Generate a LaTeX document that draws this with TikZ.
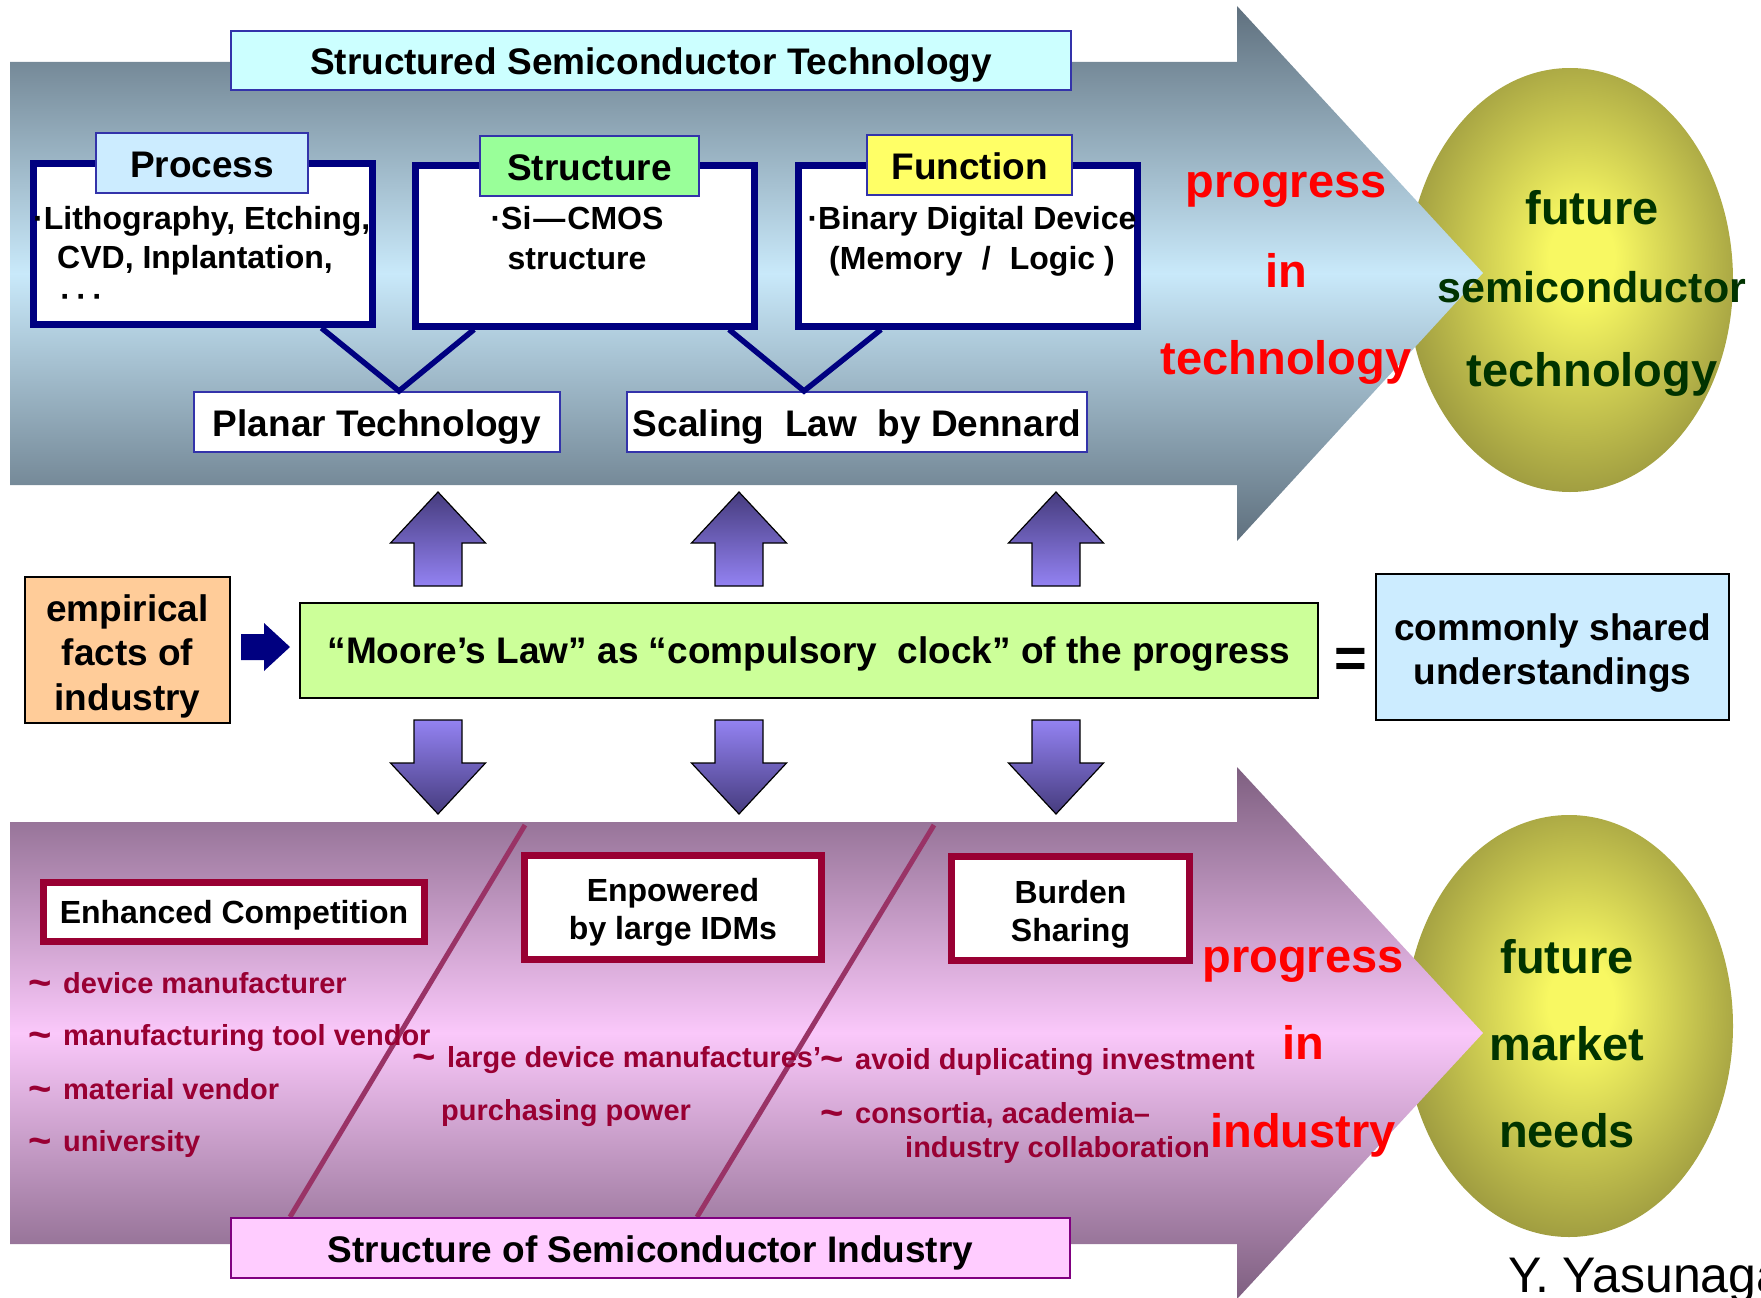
\documentclass[tikz,border=0pt]{standalone}
\usepackage{fontspec}
\setmainfont{Liberation Sans}
\usetikzlibrary{positioning}

\definecolor{slatetop}{HTML}{5F707E}
\definecolor{skyband}{HTML}{C9E9FA}
\definecolor{mauvetop}{HTML}{7E5F80}
\definecolor{pinkband}{HTML}{FAC8FA}
\definecolor{navyline}{HTML}{000080}
\definecolor{tagblue}{HTML}{3333AA}
\definecolor{wine}{HTML}{990033}
\definecolor{plum}{HTML}{993366}
\definecolor{olive}{HTML}{7A7632}
\definecolor{glow}{HTML}{F8F862}
\definecolor{lilac}{HTML}{9382F2}
\definecolor{indigo}{HTML}{463C7E}
\definecolor{leaf}{HTML}{003300}
\definecolor{titlecyan}{HTML}{CCFFFF}
\definecolor{icecube}{HTML}{CCECFF}
\definecolor{mint}{HTML}{99FF99}
\definecolor{lemon}{HTML}{FFFF66}
\definecolor{peach}{HTML}{FFCC99}
\definecolor{lime}{HTML}{CCFF99}
\definecolor{candy}{HTML}{FFCCFF}
\definecolor{grape}{HTML}{800080}

\pgfdeclareradialshading{ballglow}{\pgfpoint{2bp}{3bp}}{%
  color(0bp)=(glow); color(5bp)=(glow); color(36bp)=(olive); color(50bp)=(olive)}

% bullet wave in front of the list entries
\newcommand{\wave}{\raisebox{-3pt}{\fontsize{40}{40}\selectfont\textasciitilde}\hspace{0.4em}}

\begin{document}
\begin{tikzpicture}[x=1pt, y=-1pt,
  hd/.style={font=\fontsize{37}{44.5}\selectfont\bfseries},
  oneline/.style={text height=28pt, text depth=0pt},
  txt/.style={font=\fontsize{32}{39}\selectfont\bfseries, inner sep=0pt},
  small/.style={font=\fontsize{29}{35}\selectfont\bfseries, text=wine,
    anchor=west, inner sep=0pt},
  big/.style={font=\fontsize{47}{56}\selectfont\bfseries, inner sep=0pt},
  banner/.style={hd, oneline, draw=tagblue, line width=2pt,
    minimum height=59pt, inner sep=0pt},
  frame/.style={draw=navyline, line width=7pt, fill=white,
    minimum width=339pt, minimum height=161pt},
  vee/.style={navyline, line width=5.5pt},
  plain/.style={hd, draw=black, line width=2pt, inner sep=0pt, align=center},
  rival/.style={draw=wine, line width=7pt, fill=white, inner sep=0pt},
  rivaltext/.style={align=center, inner sep=0pt,
    font=\fontsize{32}{37.5}\selectfont\bfseries},
  divider/.style={plum, line width=5pt},
  blockup/.style={draw=black, line width=1.2pt, top color=indigo,
    bottom color=lilac},
  blockdown/.style={draw=black, line width=1.2pt, top color=lilac,
    bottom color=indigo}]
  \useasboundingbox (0,0) rectangle (1761,1298);

  % goal ovals
  \path[shading=ballglow] (1570,280) ellipse [x radius=163pt, y radius=212pt];
  \path[shading=ballglow] (1569,1026) ellipse [x radius=164pt, y radius=211pt];

  % the two big bands
  \path[top color=slatetop, bottom color=slatetop, middle color=skyband]
    (10,62) -- (1237,62) -- (1237,6) -- (1483,273) -- (1237,541)
    -- (1237,485) -- (10,485) -- cycle;
  \path[top color=mauvetop, bottom color=mauvetop, middle color=pinkband]
    (10,822) -- (1237,822) -- (1237,767) -- (1483,1033) -- (1237,1299)
    -- (1237,1244) -- (10,1244) -- cycle;

  % technology side
  \node[banner, fill=titlecyan, minimum width=840pt] (techtitle) at (651,60.5)
    {Structured Semiconductor Technology};
  \node[frame] (procbox) at (202.5,244) {};
  \node[frame] (strucbox) at (585,245.5) {};
  \node[frame] (funcbox) at (967.5,245.5) {};
  \node[banner, fill=icecube, minimum width=212pt, minimum height=60pt]
    (proc) at (202,163) {Process};
  \node[banner, fill=mint, minimum width=219pt, minimum height=60pt]
    (struc) at (589.5,166) {Structure};
  \node[banner, fill=lemon, minimum width=205pt, minimum height=60pt]
    (func) at (969.5,165) {Function};
  \node[txt, anchor=north west, align=left] (proctext) at (33,206)
    {·Lithography, Etching,\\\hspace*{0.75em}CVD, Inplantation,\\\hspace*{0.85em}·\,·\,·};
  \node[txt, anchor=north, align=center, font=\fontsize{32}{40}\selectfont\bfseries]
    (structext) at (577,206) {·Si\kern2pt—\kern2pt CMOS\\structure};
  \node[txt, anchor=north, align=center, font=\fontsize{32}{40}\selectfont\bfseries]
    (functext) at (972,206)
    {·Binary Digital Device\\(Memory\hspace{0.6em}/\hspace{0.6em}Logic )};

  \node[banner, fill=white, minimum width=366pt, minimum height=60pt]
    (planar) at (377,422) {Planar Technology};
  \node[banner, fill=white, minimum width=460pt, minimum height=60pt]
    (scaling) at (857,422) {Scaling\ \ Law\ \ by Dennard};
  \draw[vee] ([xshift=119pt]procbox.south) -- ([xshift=22pt]planar.north)
    -- ([xshift=-111pt]strucbox.south);
  \draw[vee] ([xshift=144pt]strucbox.south) -- ([xshift=-53pt]scaling.north)
    -- ([xshift=-86.5pt]funcbox.south);

  % middle row
  \node[plain, fill=peach, minimum width=205pt, minimum height=146pt]
    (facts) at (127.5,650) {};
  \node[plain, draw=none] (factstext) at ([yshift=-6pt]facts.center)
    {empirical\\facts of\\industry};
  \node[plain, text height=26pt, text depth=0pt, fill=lime,
    minimum width=1018pt, minimum height=95pt] (moore) at (809,650.5)
    {“Moore’s Law” as “compulsory\ \ clock” of the progress};
  \node[plain, fill=icecube, minimum width=353pt, minimum height=146pt]
    (shared) at (1552.5,647) {};
  \node[plain, draw=none] (sharedtext) at ([yshift=-6pt]shared.center)
    {commonly shared\\understandings};
  \node[font=\fontsize{56}{60}\selectfont\bfseries, inner sep=0pt]
    (equals) at (1351,663) {=};
  \path[fill=navyline] (241,634) -- (264,634) -- (264,623) -- (290,647)
    -- (264,671) -- (264,660) -- (241,660) -- cycle;

  \foreach \cx in {438,739,1056}{
    \path[blockup] (\cx-24,586) -- (\cx-24,543) -- (\cx-47.5,543) -- (\cx,492)
      -- (\cx+47.5,543) -- (\cx+24,543) -- (\cx+24,586) -- cycle;
    \path[blockdown] (\cx-24,720) -- (\cx+24,720) -- (\cx+24,763)
      -- (\cx+47.5,763) -- (\cx,814) -- (\cx-47.5,763) -- (\cx-24,763) -- cycle;
  }

  % industry side
  \draw[divider] (525,825) -- (290,1217);
  \draw[divider] (934,825) -- (697,1217);
  \node[banner, fill=candy, draw=grape, minimum width=839pt, minimum height=60pt]
    (indtitle) at (650.5,1248) {Structure of Semiconductor Industry};
  \node[rival, rivaltext, text height=22.5pt, text depth=0pt,
    minimum width=381pt, minimum height=59pt] (compete) at (234,912)
    {Enhanced Competition};
  \node[rival, minimum width=297pt, minimum height=104pt] (idm)
    at (673,907.5) {};
  \node[rivaltext] (idmtext) at ([yshift=-5pt]idm.center)
    {Enpowered\\by large IDMs};
  \node[rival, minimum width=238pt, minimum height=104pt] (burden)
    at (1070.5,908.5) {};
  \node[rivaltext] (burdentext) at ([yshift=-6pt]burden.center)
    {Burden\\Sharing};

  \node[small] (dev) at (28,984) {\wave device manufacturer};
  \node[small] (tool) at (28,1038) {\wave manufacturing tool vendor};
  \node[small] (mat) at (28,1090) {\wave material vendor};
  \node[small] (uni) at (28,1144) {\wave university};
  \node[small] (large) at (412,1060) {\wave large device manufactures’};
  \node[small] (power) at (441,1113) {purchasing power};
  \node[small] (avoid) at (820,1062) {\wave avoid duplicating investment};
  \node[small] (consort) at (820,1115) {\wave consortia, academia–};
  \node[small] (collab) at (905,1150) {industry collaboration};

  % band captions
  \node[big, text=red] (tprog) at (1286,190) {progress};
  \node[big, text=red] (tin) at (1286,270) {in};
  \node[big, text=red] (ttech) at (1286,362) {technology};
  \node[big, text=red] (iprog) at (1303,965) {progress};
  \node[big, text=red] (iin) at (1303,1042) {in};
  \node[big, text=red] (iind) at (1303,1135) {industry};

  % oval captions
  \node[big, text=leaf] (gfut) at (1592,208) {future};
  \node[big, text=leaf, font=\fontsize{43}{50}\selectfont\bfseries] (gsemi)
    at (1592,287) {semiconductor};
  \node[big, text=leaf] (gtech) at (1592,374) {technology};
  \node[big, text=leaf] (mfut) at (1567,957) {future};
  \node[big, text=leaf] (mmark) at (1567,1044) {market};
  \node[big, text=leaf] (mneed) at (1567,1131) {needs};

  \node[font=\fontsize{50}{54}\selectfont, anchor=base west, inner sep=0pt]
    (sign) at (1508,1292) {Y. Yasunaga};
\end{tikzpicture}
\end{document}
